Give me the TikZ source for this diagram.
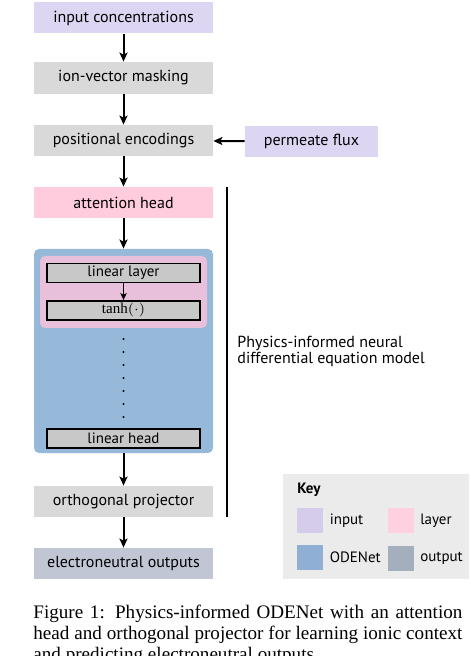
\documentclass[tikz,border=0pt]{standalone}
\usepackage{fontspec}
\setmainfont{Liberation Serif}
\newfontfamily\diagfont{PT Sans}
\usepackage{xcolor}
\usetikzlibrary{positioning, arrows.meta}

\definecolor{inputcol}{RGB}{221,214,243}
\definecolor{stepcol}{RGB}{217,217,217}
\definecolor{attncol}{RGB}{255,204,221}
\definecolor{odecol}{RGB}{150,185,218}
\definecolor{layercol}{RGB}{232,192,219}
\definecolor{lincol}{RGB}{200,200,200}
\definecolor{outcol}{RGB}{192,198,212}
\definecolor{keycol}{RGB}{235,235,235}
\definecolor{keyin}{RGB}{213,203,234}
\definecolor{keylayer}{RGB}{255,208,224}
\definecolor{keyode}{RGB}{143,176,212}
\definecolor{keyout}{RGB}{165,174,188}

\tikzset{
  stage/.style={inner sep=0pt, minimum width=89.5pt, minimum height=15.5pt, font=\diagfont\fontsize{8}{9}\selectfont},
  netbox/.style={draw=black, line width=0.9pt, fill=lincol, inner sep=0pt, minimum width=76.5pt, minimum height=9.5pt, font=\diagfont\fontsize{7.5}{9}\selectfont},
  flow/.style={-{Stealth[length=4.5pt, width=4pt, inset=1pt]}, line width=1pt},
  swatch/.style={inner sep=0pt, minimum width=13pt, minimum height=12.5pt},
  keytext/.style={anchor=west, inner sep=0pt, font=\diagfont\fontsize{7.5}{9}\selectfont}
}

\begin{document}
\begin{tikzpicture}[x=0.5pt, y=-0.5pt]
  \useasboundingbox (0,0) rectangle (470,656);
  \clip (0,0) rectangle (470,656);

  % Pipeline
  \node[stage, fill=inputcol] (inp) at (123.5,18) {input concentrations};
  \node[stage, fill=stepcol, minimum height=16pt] (mask) at (123.5,78) {ion-vector masking};
  \node[stage, fill=stepcol] (pos) at (123.5,140.5) {positional encodings};
  \node[stage, fill=inputcol, minimum width=66.5pt] (flux) at (311.5,141.5) {permeate flux};
  \node[stage, fill=attncol] (att) at (123.5,202.5) {attention head};

  % ODENet block
  \node[fill=odecol, rounded corners=2.5pt, inner sep=0pt, minimum width=89.5pt, minimum height=102pt] (ode) at (123.5,351) {};
  \node[fill=layercol, rounded corners=2.5pt, inner sep=0pt, minimum width=83.5pt, minimum height=36pt] (layerbg) at (123.5,292) {};
  \node[netbox] (lin) at (123.5,273) {linear layer};
  \node[netbox] (tanh) at (123.5,310.5) {$\tanh(\cdot)$};
  \node[netbox] (head) at (123.5,438.5) {linear head};
  \foreach \y in {0,...,6} {
    \fill (123.5,339+13*\y) circle (0.55pt);
  }

  \node[stage, fill=stepcol] (proj) at (123.5,501.5) {orthogonal projector};
  \node[stage, fill=outcol] (out) at (123.5,563.5) {electroneutral outputs};

  % Arrows
  \draw[flow] (inp) -- (mask);
  \draw[flow] (mask) -- (pos);
  \draw[flow] (flux) -- (pos);
  \draw[flow] (pos) -- (att);
  \draw[flow] (att) -- (ode);
  \draw[-{Stealth[length=3.5pt, width=3.2pt, inset=0.8pt]}, line width=0.8pt] (lin) -- (tanh);
  \draw[flow] (ode) -- (proj);
  \draw[flow] (proj) -- (out);

  % Model bracket
  \coordinate (bartop) at (227,187);
  \coordinate (barbot) at (227,517);
  \draw[line width=1pt] (bartop) -- (barbot);
  \node[anchor=west, align=left, inner sep=0pt, font=\diagfont\fontsize{8}{8}\selectfont] (model) at (237,351)
    {Physics-informed neural\\differential equation model};

  % Key
  \node[fill=keycol, inner sep=0pt, minimum width=93pt, minimum height=52.5pt] (key) at (376,526.5) {};
  \node[keytext, font=\diagfont\bfseries\fontsize{7.5}{9}\selectfont] (keytitle) at (297,490) {Key};
  \node[swatch, fill=keyin] (kin) at (310,520.5) {};
  \node[keytext, right=3pt of kin] {input};
  \node[swatch, fill=keylayer] (klayer) at (400.5,520.5) {};
  \node[keytext, right=3pt of klayer] {layer};
  \node[swatch, fill=keyode] (kode) at (310,557.5) {};
  \node[keytext, right=3pt of kode] {ODENet};
  \node[swatch, fill=keyout] (kout) at (400.5,558) {};
  \node[keytext, right=3pt of kout] {output};

  % Caption
  \node[anchor=base west, inner sep=0pt, font=\fontsize{9.55}{10}\selectfont] (cap1) at (33,618)
    {\hbox to 214.5pt{Figure 1: Physics-informed ODENet with an attention}};
  \node[anchor=base west, inner sep=0pt, font=\fontsize{9.55}{10}\selectfont] (cap2) at (33,639)
    {\hbox to 214.5pt{head and orthogonal projector for learning ionic context}};
  \node[anchor=base west, inner sep=0pt, font=\fontsize{9.55}{10}\selectfont] (cap3) at (33,660)
    {and predicting electroneutral outputs.};
\end{tikzpicture}
\end{document}
